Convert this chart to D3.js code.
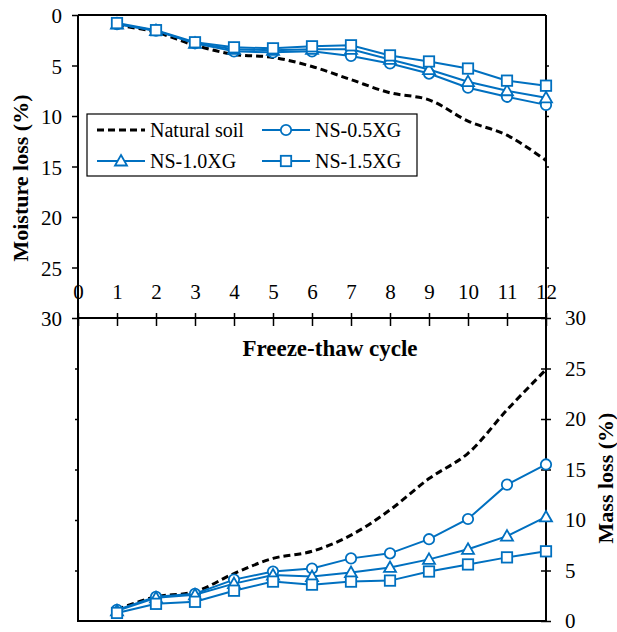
<!DOCTYPE html>
<html>
<head>
<meta charset="utf-8">
<script src="https://cdn.jsdelivr.net/npm/d3@7"></script>
<style>
  html, body { margin: 0; padding: 0; background: #fff; }
  svg { display: block; }
  svg text { font-family: "Liberation Serif", "Times New Roman", Tinos, "DejaVu Serif", serif !important; }
</style>
</head>
<body>
<svg id="chart" width="617" height="632"></svg>
<script>
// ---- data ----
const cycles = [1,2,3,4,5,6,7,8,9,10,11,12];
const xTicks = [0,1,2,3,4,5,6,7,8,9,10,11,12];
const yTicks = [0,5,10,15,20,25,30];
const seriesNames = ["Natural soil", "NS-0.5XG", "NS-1.0XG", "NS-1.5XG"];

// Moisture loss (%) – upper panel
const moistNatural = [1.0, 1.7, 3.0, 3.9, 4.2, 5.1, 6.4, 7.7, 8.4, 10.5, 11.9, 14.4];
const moist05 = [0.9, 1.55, 2.8, 3.6, 3.7, 3.6, 4.05, 4.8, 5.8, 7.2, 8.1, 8.9];
const moist10 = [0.9, 1.55, 2.8, 3.4, 3.5, 3.4, 3.4, 4.4, 5.4, 6.6, 7.5, 8.2];
const moist15 = [0.8, 1.5, 2.7, 3.2, 3.3, 3.1, 3.0, 4.0, 4.6, 5.3, 6.5, 7.0];

// Mass loss (%) – lower panel
const massNatural = [1.15, 2.4, 2.9, 4.7, 6.2, 6.9, 8.5, 11.0, 14.1, 16.6, 20.9, 24.9];
const mass05 = [1.1, 2.4, 2.7, 4.1, 4.9, 5.2, 6.2, 6.7, 8.1, 10.1, 13.5, 15.5];
const mass10 = [1.0, 2.3, 2.6, 3.7, 4.55, 4.4, 4.8, 5.3, 6.1, 7.1, 8.4, 10.3];
const mass15 = [0.8, 1.7, 1.9, 3.0, 3.9, 3.6, 3.9, 4.0, 4.9, 5.6, 6.3, 6.9];

// ---- layout ----
const FONT = '"Liberation Serif", "Times New Roman", Tinos, "DejaVu Serif", serif';
const svg = d3.select("#chart");
const L = 78, R = 546, T = 15, MID = 318, B = 621;
const blue = "#0070C0";

const x = d3.scaleLinear().domain([0, 12]).range([L, R]);
const yTop = d3.scaleLinear().domain([0, 30]).range([T, MID]);
const yBot = d3.scaleLinear().domain([0, 30]).range([B, MID]);

// ---- axes ----
const leftAx = svg.append("g").attr("transform", `translate(${L},0)`)
  .call(d3.axisLeft(yTop).tickValues(yTicks).tickSize(6).tickPadding(10).tickFormat(d3.format("d")));
const leftAx2 = svg.append("g").attr("transform", `translate(${L},0)`)
  .call(d3.axisLeft(yBot).tickValues([5,10,15,20,25]).tickSize(3).tickFormat(""));
const rightAx = svg.append("g").attr("transform", `translate(${R},0)`)
  .call(d3.axisRight(yBot).tickValues(yTicks).tickSize(5).tickPadding(14).tickFormat(d3.format("d")));
const rightAx2 = svg.append("g").attr("transform", `translate(${R},0)`)
  .call(d3.axisRight(yTop).tickValues([5,10,15,20,25]).tickSize(3).tickFormat(""));
const xAx = svg.append("g").attr("transform", `translate(0,${MID})`)
  .call(d3.axisTop(x).tickValues(xTicks).tickSize(6).tickPadding(13).tickFormat(d3.format("d")));
xAx.selectAll(".tick line").attr("y1", 8).attr("y2", -5);
rightAx.selectAll(".tick line").attr("x1", -5);

[leftAx, leftAx2, rightAx, rightAx2, xAx].forEach(g => {
  g.attr("font-family", FONT);
  g.select(".domain").remove();
  g.selectAll(".tick line").attr("stroke", "#000").attr("stroke-width", 1.5);
  g.selectAll(".tick text").attr("fill", "#000").style("font-size", "21px").style("font-family", FONT);
});
leftAx.selectAll(".tick text").attr("dy", "0.36em");
rightAx.selectAll(".tick text").attr("dy", "0.33em");

// frame lines
const frame = svg.append("g").attr("stroke", "#000").attr("stroke-width", 2);
frame.append("line").attr("x1", L).attr("x2", L).attr("y1", T).attr("y2", B + 1);
frame.append("line").attr("x1", R).attr("x2", R).attr("y1", T).attr("y2", B + 1);
frame.append("line").attr("x1", L).attr("x2", R).attr("y1", T).attr("y2", T);
frame.append("line").attr("x1", L - 1).attr("x2", R + 1).attr("y1", B).attr("y2", B);
frame.append("line").attr("x1", L).attr("x2", R).attr("y1", MID).attr("y2", MID);

// ---- markers ----
function drawMarker(g, type, cx, cy) {
  if (type === "circle") {
    g.append("circle").attr("cx", cx).attr("cy", cy).attr("r", 5.2)
      .attr("fill", "#fff").attr("stroke", blue).attr("stroke-width", 1.8);
  } else if (type === "square") {
    g.append("rect").attr("x", cx - 5.2).attr("y", cy - 5.2).attr("width", 10.4).attr("height", 10.4)
      .attr("fill", "#fff").attr("stroke", blue).attr("stroke-width", 1.8);
  } else if (type === "triangle") {
    const s = 6;
    g.append("path").attr("d", `M${cx},${cy - s}L${cx + s},${cy + s * 0.75}L${cx - s},${cy + s * 0.75}Z`)
      .attr("fill", "#fff").attr("stroke", blue).attr("stroke-width", 1.8);
  }
}

function drawSeries(values, yScale, marker) {
  const pts = cycles.map((c, i) => [x(c), yScale(values[i])]);
  const g = svg.append("g");
  if (marker === null) {
    g.append("path").attr("d", d3.line().curve(d3.curveCatmullRom.alpha(0.5))(pts))
      .attr("fill", "none").attr("stroke", "#000").attr("stroke-width", 3)
      .attr("stroke-dasharray", "7,4");
  } else {
    g.append("path").attr("d", d3.line()(pts))
      .attr("fill", "none").attr("stroke", blue).attr("stroke-width", 2);
    pts.forEach(p => drawMarker(g, marker, p[0], p[1]));
  }
}

drawSeries(moistNatural, yTop, null);
drawSeries(moist05, yTop, "circle");
drawSeries(moist10, yTop, "triangle");
drawSeries(moist15, yTop, "square");
drawSeries(massNatural, yBot, null);
drawSeries(mass05, yBot, "circle");
drawSeries(mass10, yBot, "triangle");
drawSeries(mass15, yBot, "square");

// ---- legend ----
const lg = svg.append("g");
lg.append("rect").attr("x", 87).attr("y", 114).attr("width", 330).attr("height", 62)
  .attr("fill", "#fff").attr("stroke", "#000").attr("stroke-width", 1.2);
const legendItems = [
  {name: seriesNames[0], marker: null, lx: 97, ly: 130},
  {name: seriesNames[1], marker: "circle", lx: 262, ly: 130},
  {name: seriesNames[2], marker: "triangle", lx: 97, ly: 161},
  {name: seriesNames[3], marker: "square", lx: 262, ly: 161}
];
legendItems.forEach(it => {
  const g = lg.append("g");
  if (it.marker === null) {
    g.append("line").attr("x1", it.lx).attr("x2", it.lx + 48).attr("y1", it.ly).attr("y2", it.ly)
      .attr("stroke", "#000").attr("stroke-width", 3).attr("stroke-dasharray", "7,4");
  } else {
    g.append("line").attr("x1", it.lx).attr("x2", it.lx + 48).attr("y1", it.ly).attr("y2", it.ly)
      .attr("stroke", blue).attr("stroke-width", 2);
    drawMarker(g, it.marker, it.lx + 24, it.ly);
  }
  g.append("text").attr("x", it.lx + 53).attr("y", it.ly).attr("dy", "0.35em")
    .style("font-size", "20px").style("font-family", FONT).attr("fill", "#000").text(it.name);
});

// ---- titles ----
svg.append("text").attr("transform", `translate(20,178) rotate(-90)`)
  .attr("text-anchor", "middle").attr("dy", "0.35em").style("font-size", "22px").style("font-weight", "bold")
  .style("font-family", FONT).text("Moisture loss (%)");
svg.append("text").attr("transform", `translate(605,478) rotate(-90)`)
  .attr("text-anchor", "middle").attr("dy", "0.35em").style("font-size", "22px").style("font-weight", "bold")
  .style("font-family", FONT).text("Mass loss (%)");
svg.append("text").attr("x", 330).attr("y", 356)
  .attr("text-anchor", "middle").style("font-size", "23px").style("font-weight", "bold")
  .style("font-family", FONT).text("Freeze-thaw cycle");
</script>
</body>
</html>
